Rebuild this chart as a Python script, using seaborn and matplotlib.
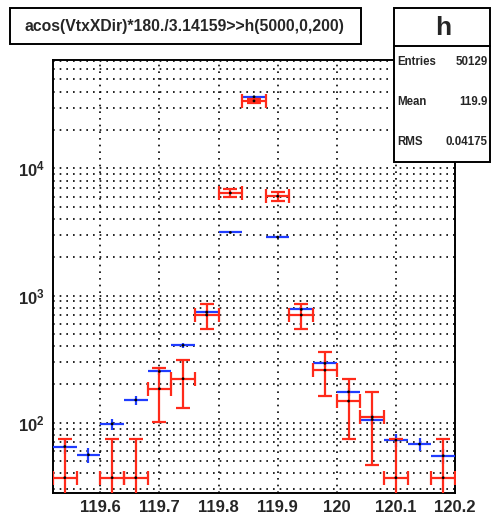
import numpy as np
import pandas as pd
import matplotlib
matplotlib.use("Agg")
import matplotlib.pyplot as plt
import seaborn as sns
from matplotlib.patches import Rectangle
from matplotlib.ticker import LogLocator, MultipleLocator, NullFormatter

# histogram h(5000,0,200) zoomed to 119.52..120.2, bin width 0.04
bin_centers = [119.54, 119.58, 119.62, 119.66, 119.70, 119.74, 119.78, 119.82, 119.86,
               119.90, 119.94, 119.98, 120.02, 120.06, 120.10, 120.14, 120.18]
bin_width = 0.04
blue_values = [65, 56, 98, 151, 253, 406, 740, 3130, 36500, 2880, 778, 293, 175, 106, 73, 68, 55]
red_counts = [1, 0, 1, 1, 5, 6, 19, 173, 915, 163, 19, 7, 4, 3, 1, 0, 1]
red_scale = 37.0

x_ticks = [119.6, 119.7, 119.8, 119.9, 120.0, 120.1, 120.2]
x_tick_labels = ["119.6", "119.7", "119.8", "119.9", "120", "120.1", "120.2"]

title_text = "acos(VtxXDir)*180./3.14159>>h(5000,0,200)"
stat_names = ["Entries", "Mean", "RMS"]
stat_values = ["50129", "119.9", "0.04175"]

sns.set_style("white")
plt.rcParams['font.family'] = ['Liberation Sans', 'DejaVu Sans']
plt.rcParams['mathtext.fontset'] = 'custom'
plt.rcParams['mathtext.rm'] = 'Liberation Sans:bold'
plt.rcParams['mathtext.bf'] = 'Liberation Sans:bold'

fig = plt.figure(figsize=(4.91, 5.23), dpi=100)
ax = fig.add_axes([53 / 491, 1 - 492.7 / 523, 402 / 491, 432.7 / 523])

x = np.array(bin_centers)
blue = np.array(blue_values, dtype=float)
blue_err = np.sqrt(blue)

red_n = np.array(red_counts, dtype=float)
has_red = red_n > 0
red = red_n[has_red] * red_scale
red_err = np.sqrt(red_n[has_red]) * red_scale
red_lo = np.minimum(red_err, red - 1.0)

# blue histogram: horizontal bin line + small poisson error
ax.errorbar(x, blue, xerr=bin_width / 2, yerr=blue_err, fmt='none',
            ecolor='#1f3cff', elinewidth=1.6, capsize=0, zorder=3)

# red (scaled) histogram with E1 style caps
ax.errorbar(x[has_red], red, xerr=bin_width / 2, yerr=[red_lo, red_err], fmt='none',
            ecolor='#ff2a1a', elinewidth=1.6, capsize=5, capthick=1.6, zorder=4)

markers = pd.DataFrame({
    'x': np.concatenate([x, x[has_red]]),
    'y': np.concatenate([blue, red]),
})
sns.scatterplot(data=markers, x='x', y='y', ax=ax, color='black', s=4,
                edgecolor='none', zorder=5, legend=False)
ax.set_xlabel('')
ax.set_ylabel('')

ax.set_yscale('log')
ax.set_xlim(119.52, 120.2)
ax.set_ylim(28.2, 7.1e4)

ax.set_xticks(x_ticks)
ax.set_xticklabels(x_tick_labels)
ax.xaxis.set_minor_locator(MultipleLocator(0.02))
ax.yaxis.set_major_locator(LogLocator(base=10))
ax.yaxis.set_minor_locator(LogLocator(base=10, subs=np.arange(2, 10)))
ax.yaxis.set_minor_formatter(NullFormatter())
ax.set_yticks([1e2, 1e3, 1e4])
ax.set_yticklabels([r"$\mathbf{10^{2}}$", r"$\mathbf{10^{3}}$", r"$\mathbf{10^{4}}$"])

ax.tick_params(axis='x', which='major', direction='in', length=9, width=1.2,
               labelsize=12, pad=5, top=False)
ax.tick_params(axis='x', which='minor', direction='in', length=5.5, width=1.2, top=False)
ax.tick_params(axis='y', which='major', direction='in', length=9, width=1.2,
               labelsize=12, pad=6, right=False)
ax.tick_params(axis='y', which='minor', direction='in', length=5, width=1.2, right=False)
for lab in ax.get_xticklabels():
    lab.set_fontweight('bold')

ax.grid(True, which='major', axis='x', color='black', linestyle=(0, (1, 3)), linewidth=1.2)
ax.grid(True, which='both', axis='y', color='black', linestyle=(0, (1, 3)), linewidth=1.2)
for sp in ax.spines.values():
    sp.set_visible(True)
    sp.set_color('black')
    sp.set_linewidth(1.4)

# title box
fig.patches.append(Rectangle((10 / 491, 1 - 44 / 523), 351 / 491, 36 / 523,
                             transform=fig.transFigure, facecolor='white',
                             edgecolor='black', linewidth=1.4, zorder=10))
fig.text(184 / 491, 1 - 26 / 523, title_text, ha='center', va='center',
         fontsize=11.3, fontweight='bold', zorder=11)

# stats box
fig.patches.append(Rectangle((394 / 491, 1 - 162 / 523), 96 / 491, 154 / 523,
                             transform=fig.transFigure, facecolor='white',
                             edgecolor='black', linewidth=1.4, zorder=10))
fig.lines.append(plt.Line2D([394 / 491, 490 / 491], [1 - 46 / 523, 1 - 46 / 523],
                            transform=fig.transFigure, color='black', linewidth=1.4,
                            zorder=11))
fig.text(443 / 491, 1 - 28 / 523, "h", ha='center', va='center', fontsize=19,
         fontweight='bold', zorder=11)
for i, (name, val) in enumerate(zip(stat_names, stat_values)):
    yy = 1 - (62 + i * 40) / 523
    fig.text(397 / 491, yy, name, ha='left', va='center', fontsize=8.3,
             fontweight='bold', zorder=11)
    fig.text(488 / 491, yy, val, ha='right', va='center', fontsize=8.3,
             fontweight='bold', zorder=11)

fig.savefig("out.png", dpi=100)
